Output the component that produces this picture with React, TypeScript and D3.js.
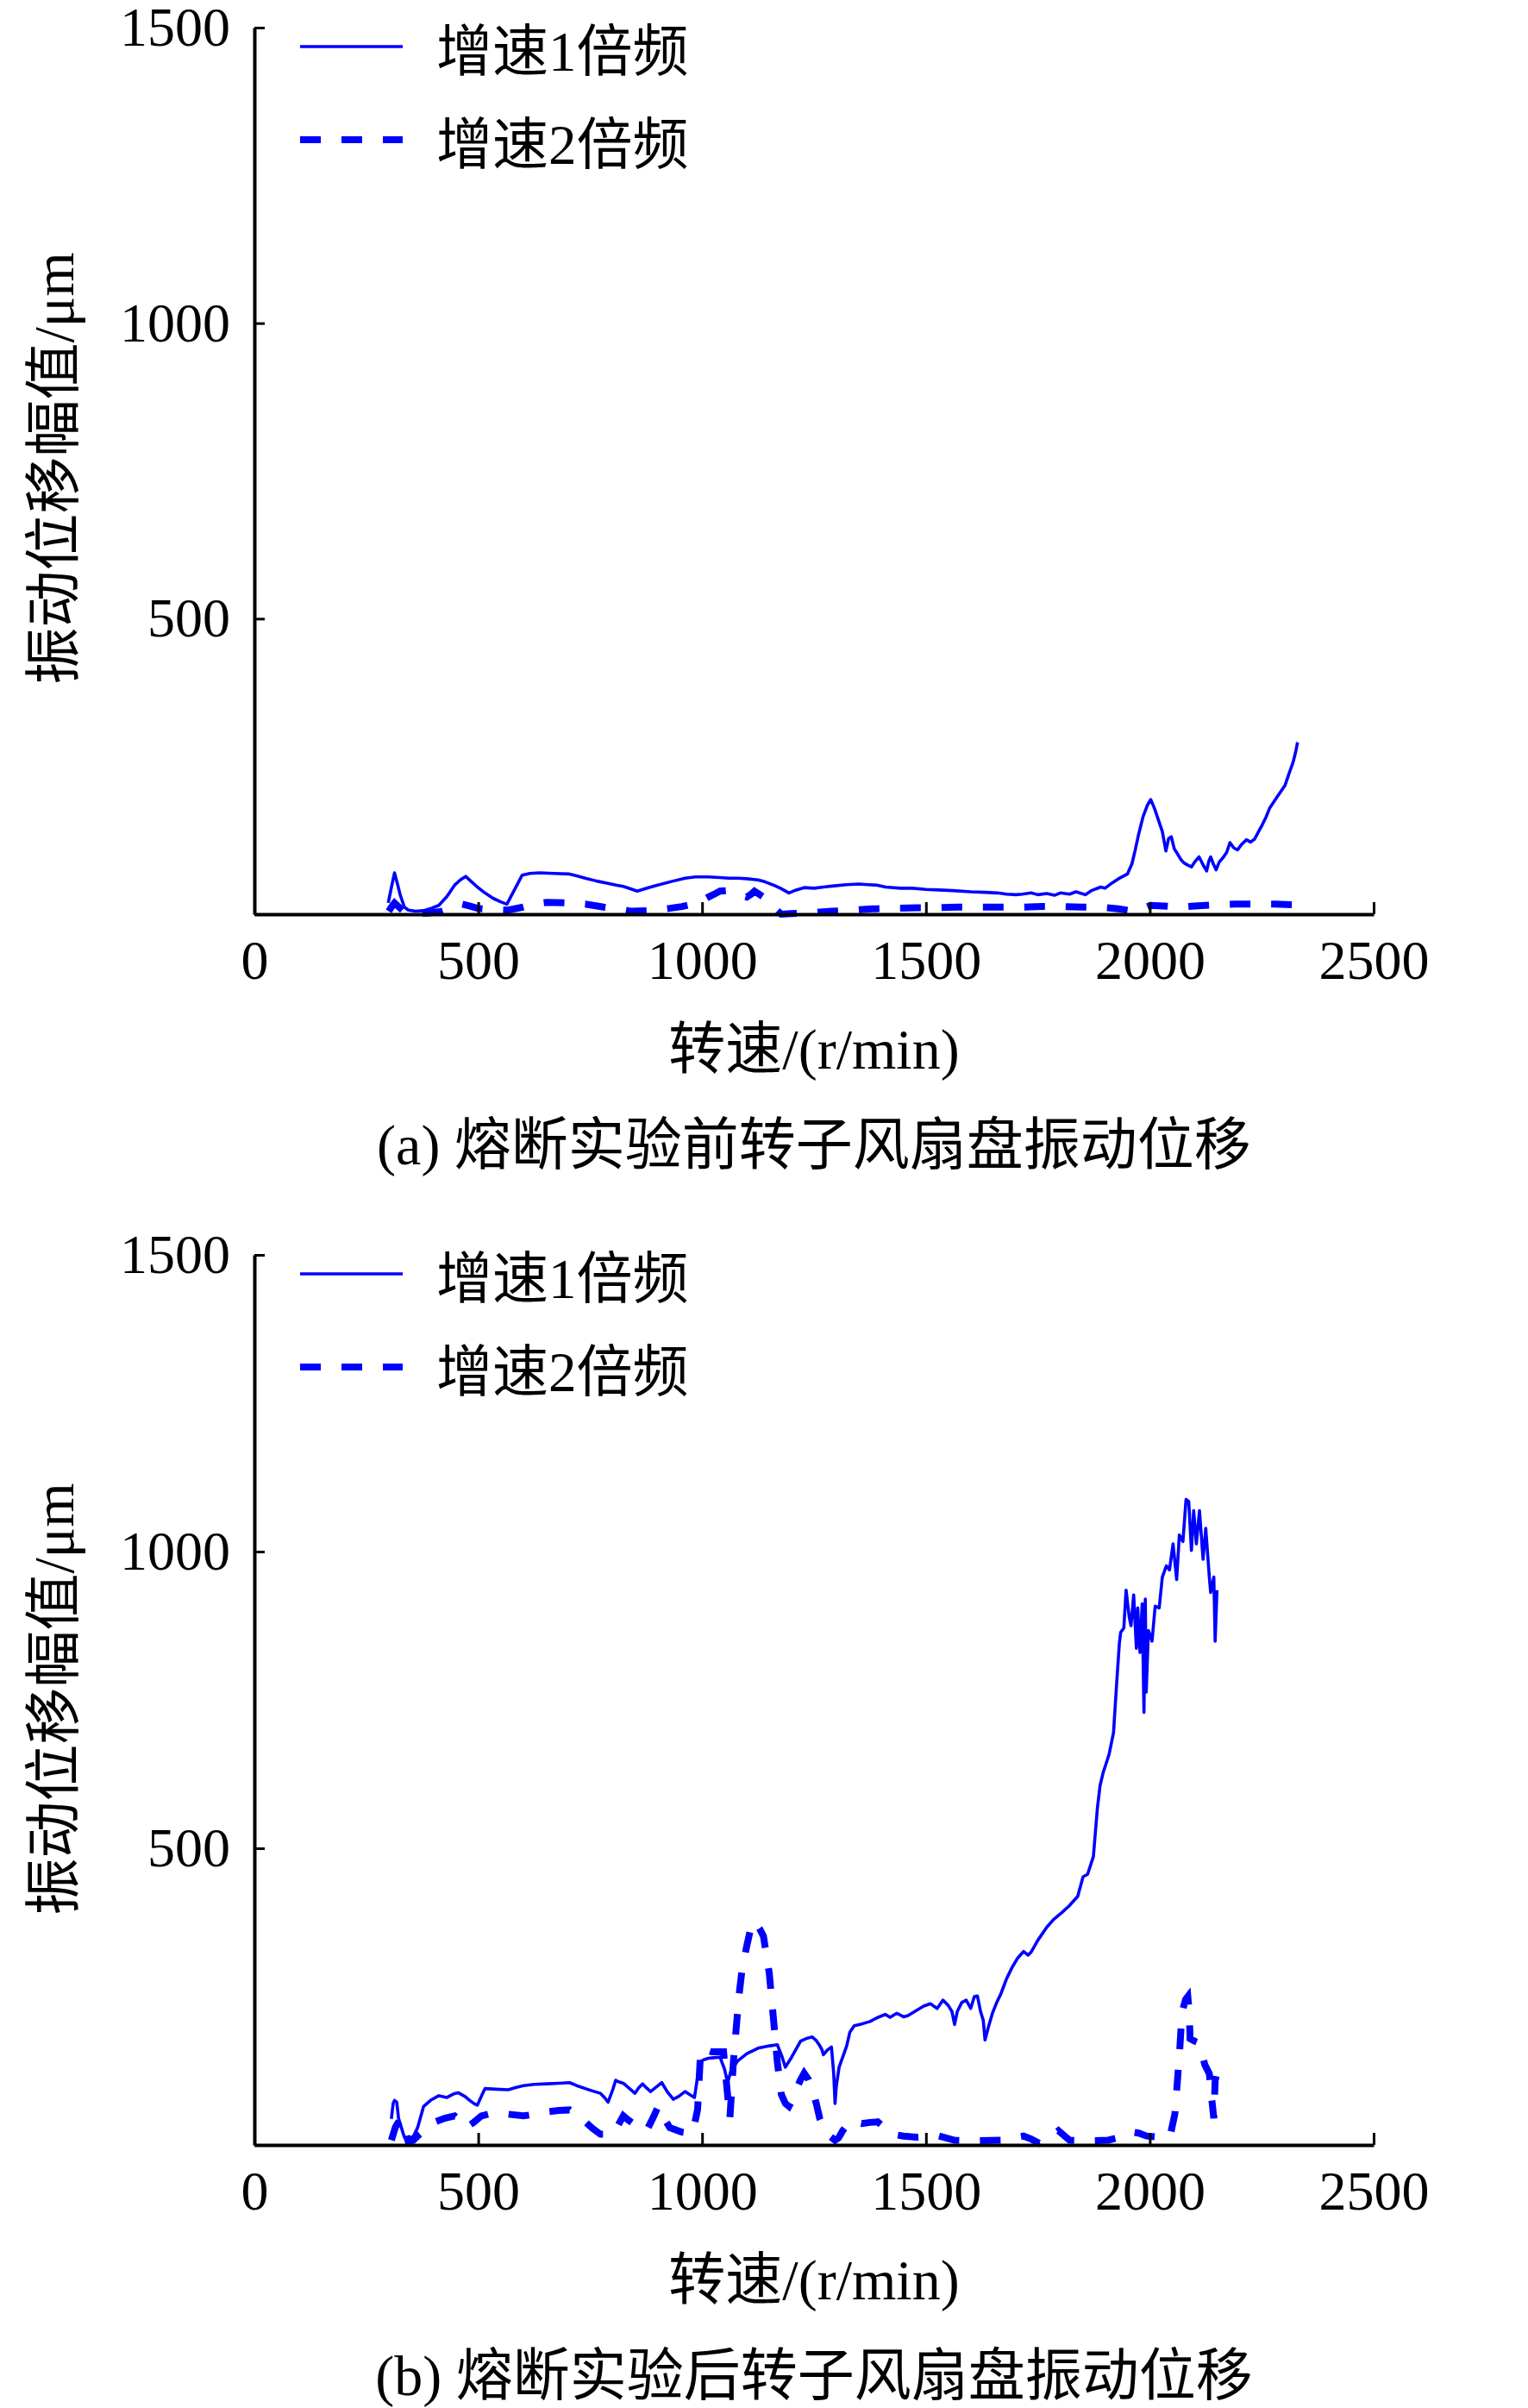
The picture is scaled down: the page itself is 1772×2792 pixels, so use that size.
import React, { useEffect, useRef } from 'react';
import * as d3 from 'd3';

// 熔断实验前 (before), [转速 r/min, 幅值 μm]
const before1x: [number, number][] = [
  [299,19],[306,45],[313,70],[320,50],[326,32],[335,12],[344,7],[360,5],[378,6],[395,10],[412,15],[430,30],[447,49],[460,58],[472,64],[485,55],[498,46],[515,36],[533,27],[550,21],[564,17],[580,40],[598,66],[615,69],[636,70],[670,69],[704,68],[720,65],[739,61],[765,56],[790,52],[810,49],[824,47],[840,43],[855,39],[880,45],[910,51],[935,56],[962,61],[985,63],[1014,63],[1040,62],[1060,61],[1082,61],[1100,60],[1125,58],[1140,55],[1160,49],[1175,44],[1194,36],[1210,41],[1228,45],[1250,44],[1271,46],[1295,48],[1323,50],[1350,51],[1370,50],[1392,49],[1410,46],[1443,44],[1470,44],[1500,42],[1529,41],[1560,40],[1600,38],[1632,37],[1660,36],[1680,34],[1701,33],[1715,34],[1735,36],[1750,33],[1770,35],[1787,32],[1800,36],[1821,34],[1835,38],[1856,33],[1870,40],[1890,46],[1900,44],[1916,53],[1930,60],[1950,68],[1960,85],[1967,107],[1975,135],[1985,165],[1995,185],[2002,194],[2010,180],[2019,160],[2028,140],[2036,107],[2042,128],[2048,131],[2055,110],[2062,102],[2070,92],[2076,87],[2085,83],[2093,80],[2100,88],[2110,97],[2118,85],[2127,73],[2132,90],[2136,97],[2142,85],[2148,75],[2155,88],[2165,97],[2172,105],[2179,121],[2188,112],[2196,109],[2205,118],[2216,126],[2225,122],[2234,127],[2243,140],[2251,151],[2260,165],[2268,180],[2277,190],[2285,199],[2295,210],[2302,218],[2312,240],[2320,257],[2326,275],[2330,291],
];
const before2x: [number, number][] = [
  [300,5],[306,12],[313,19],[320,14],[335,4],[360,2],[387,2],[420,5],[445,12],[464,17],[480,14],[498,10],[530,8],[567,7],[600,12],[630,18],[653,20],[700,19],[739,17],[780,12],[820,8],[842,5],[880,6],[928,10],[955,13],[979,17],[1000,23],[1014,29],[1030,35],[1040,39],[1057,40],[1075,35],[1100,29],[1110,34],[1117,39],[1135,30],[1151,19],[1165,8],[1177,0],[1200,1],[1237,2],[1290,5],[1340,7],[1380,9],[1426,10],[1480,11],[1529,11],[1570,12],[1615,12],[1660,12],[1718,12],[1760,13],[1804,13],[1850,12],[1890,12],[1930,9],[1967,5],[1985,10],[2002,15],[2030,14],[2062,12],[2100,14],[2148,16],[2190,17],[2234,17],[2280,17],[2328,16],
];

// 熔断实验后 (after)
const after1x: [number, number][] = [
  [306,44],[310,70],[313,75],[318,72],[322,45],[328,30],[335,13],[344,12],[355,14],[365,30],[378,65],[395,76],[412,83],[430,80],[445,86],[455,88],[470,82],[481,75],[490,70],[498,67],[507,82],[515,95],[540,94],[567,93],[585,97],[601,100],[625,102],[653,103],[680,104],[704,105],[720,100],[739,95],[755,91],[773,87],[782,80],[790,72],[800,92],[807,109],[815,106],[824,104],[838,95],[850,87],[858,96],[867,103],[876,96],[885,90],[898,98],[910,105],[922,90],[936,77],[948,82],[962,90],[972,85],[983,80],[990,115],[997,141],[1005,144],[1014,146],[1025,147],[1040,148],[1050,128],[1057,105],[1062,118],[1065,126],[1080,142],[1100,154],[1125,163],[1151,167],[1168,169],[1178,150],[1186,131],[1200,148],[1220,175],[1235,180],[1246,182],[1255,176],[1263,167],[1268,160],[1271,152],[1280,160],[1289,165],[1294,120],[1297,70],[1300,100],[1306,131],[1315,150],[1323,167],[1330,190],[1340,201],[1357,204],[1375,208],[1390,214],[1409,220],[1420,215],[1435,222],[1450,216],[1460,218],[1475,225],[1495,234],[1510,238],[1525,230],[1538,244],[1550,235],[1558,225],[1564,203],[1570,225],[1580,240],[1590,244],[1600,230],[1608,250],[1615,251],[1622,225],[1628,210],[1632,177],[1640,200],[1649,223],[1658,240],[1667,254],[1680,280],[1693,300],[1705,315],[1718,326],[1728,320],[1735,325],[1750,345],[1770,367],[1785,380],[1804,392],[1820,403],[1839,419],[1851,452],[1861,456],[1874,486],[1883,568],[1889,606],[1896,628],[1909,658],[1919,695],[1926,778],[1932,845],[1935,864],[1942,871],[1947,935],[1954,890],[1958,875],[1964,927],[1970,837],[1973,905],[1978,830],[1983,912],[1987,729],[1990,920],[1992,763],[1997,867],[2005,849],[2012,908],[2021,905],[2028,957],[2037,976],[2044,969],[2052,1013],[2060,953],[2066,1028],[2074,1017],[2081,1088],[2087,1084],[2093,1002],[2098,1069],[2104,1013],[2111,1069],[2119,987],[2125,1039],[2133,957],[2136,931],[2143,957],[2146,849],[2150,935],
];
const after2x: [number, number][] = [
  [306,8],[315,30],[326,44],[335,25],[344,5],[355,8],[369,18],[385,28],[404,39],[425,45],[447,49],[460,40],[472,29],[490,38],[507,49],[533,54],[565,52],[601,49],[630,52],[653,56],[680,58],[704,59],[720,50],[739,39],[755,28],[773,18],[799,18],[810,30],[824,49],[835,42],[850,34],[865,28],[876,24],[890,45],[902,65],[915,45],[928,29],[953,22],[979,20],[990,60],[997,162],[1010,160],[1022,157],[1048,157],[1055,100],[1062,44],[1070,140],[1082,249],[1090,300],[1100,336],[1110,370],[1117,377],[1128,365],[1137,352],[1150,290],[1160,208],[1168,140],[1177,85],[1186,70],[1194,65],[1205,80],[1211,95],[1220,110],[1228,121],[1238,110],[1246,95],[1255,70],[1263,44],[1272,28],[1280,18],[1297,8],[1305,12],[1314,24],[1332,41],[1345,38],[1357,36],[1375,38],[1392,39],[1410,28],[1426,18],[1450,15],[1478,13],[1529,15],[1564,8],[1615,7],[1667,8],[1718,15],[1735,10],[1753,3],[1775,12],[1796,24],[1810,15],[1821,8],[1850,7],[1873,7],[1907,8],[1940,14],[1959,22],[1975,20],[1993,15],[2020,13],[2045,14],[2056,52],[2066,150],[2072,224],[2080,245],[2085,250],[2088,224],[2090,179],[2100,175],[2110,172],[2123,135],[2133,120],[2138,80],[2143,45],[2146,108],[2148,116],
];

const xTicks = [0, 500, 1000, 1500, 2000, 2500];
const yTicks = [0, 500, 1000, 1500];
const legendLabels = ['增速1倍频', '增速2倍频'];
const xLabel = '转速/(r/min)';
const yLabel = '振动位移幅值/μm';
const captions = ['(a) 熔断实验前转子风扇盘振动位移', '(b) 熔断实验后转子风扇盘振动位移'];

const W = 1772;
const H = 2792;
const FONT = "'Liberation Serif', 'Times New Roman', 'Noto Sans CJK SC', serif";
const BLUE = '#0000ff';

const App = () => {
  const ref = useRef(null);

  useEffect(() => {
    const svg = d3.select(ref.current);
    svg.selectAll('*').remove();

    const panels = [
      { s1: before1x, s2: before2x, top: 32, bottom: 1060, caption: captions[0] },
      { s1: after1x, s2: after2x, top: 1455, bottom: 2487, caption: captions[1] },
    ];

    const x = d3.scaleLinear().domain([0, 2500]).range([295, 1593]);

    panels.forEach((p) => {
      const y = d3.scaleLinear().domain([0, 1500]).range([p.bottom, p.top]);
      const g = svg.append('g');

      const line = d3
        .line<[number, number]>()
        .x((d) => x(d[0]))
        .y((d) => y(d[1]));

      g.append('path')
        .datum(p.s2)
        .attr('d', line)
        .attr('fill', 'none')
        .attr('stroke', BLUE)
        .attr('stroke-width', 8)
        .attr('stroke-dasharray', '24 24');

      g.append('path')
        .datum(p.s1)
        .attr('d', line)
        .attr('fill', 'none')
        .attr('stroke', BLUE)
        .attr('stroke-width', 3.6)
        .attr('stroke-linejoin', 'round');

      // axes
      const xAxis = g
        .append('g')
        .attr('transform', `translate(0,${p.bottom})`)
        .call(d3.axisBottom(x).tickValues(xTicks).tickSize(-14).tickSizeOuter(0).tickPadding(30).tickFormat(d3.format('d')));
      const yAxis = g
        .append('g')
        .attr('transform', `translate(${x(0)},0)`)
        .call(d3.axisLeft(y).tickValues(yTicks).tickSize(-12).tickSizeOuter(0).tickPadding(28).tickFormat(d3.format('d')));

      [xAxis, yAxis].forEach((a) => {
        a.select('.domain').attr('stroke', '#000').attr('stroke-width', 4);
        a.selectAll('.tick line').attr('stroke', '#000').attr('stroke-width', 3);
        a.selectAll('.tick text').attr('fill', '#000').style('font-family', FONT).style('font-size', '64px');
      });
      yAxis.selectAll('.tick').filter((d) => d === 0).select('text').remove();
      xAxis.selectAll('.tick text').attr('dy', '0.71em');

      // legend
      legendLabels.forEach((lab, i) => {
        const ly = p.top + 22 + i * 108;
        g.append('line')
          .attr('x1', 348)
          .attr('x2', 467)
          .attr('y1', ly)
          .attr('y2', ly)
          .attr('stroke', BLUE)
          .attr('stroke-width', i === 0 ? 3.6 : 8)
          .attr('stroke-dasharray', i === 0 ? null : '24 24');
        g.append('text')
          .attr('x', 506)
          .attr('y', ly + 6)
          .attr('dominant-baseline', 'central')
          .style('font-family', FONT)
          .style('font-size', '65px')
          .text(lab);
      });

      g.append('text')
        .attr('x', (x(0) + x(2500)) / 2)
        .attr('y', p.bottom + 156)
        .attr('text-anchor', 'middle')
        .attr('dominant-baseline', 'central')
        .style('font-family', FONT)
        .style('font-size', '66px')
        .text(xLabel);

      g.append('text')
        .attr('transform', `translate(62,${p.bottom - 517}) rotate(-90)`)
        .attr('text-anchor', 'middle')
        .attr('dominant-baseline', 'central')
        .style('font-family', FONT)
        .style('font-size', '66px')
        .text(yLabel);

      g.append('text')
        .attr('x', (x(0) + x(2500)) / 2)
        .attr('y', p.bottom + 267)
        .attr('text-anchor', 'middle')
        .attr('dominant-baseline', 'central')
        .style('font-family', FONT)
        .style('font-size', '66px')
        .text(p.caption);
    });
  }, []);

  return (
    <div style={{ position: 'absolute', left: 0, top: 0 }}>
      <svg ref={ref} width={W} height={H} style={{ display: 'block', background: '#fff' }} />
    </div>
  );
};

export default App;
